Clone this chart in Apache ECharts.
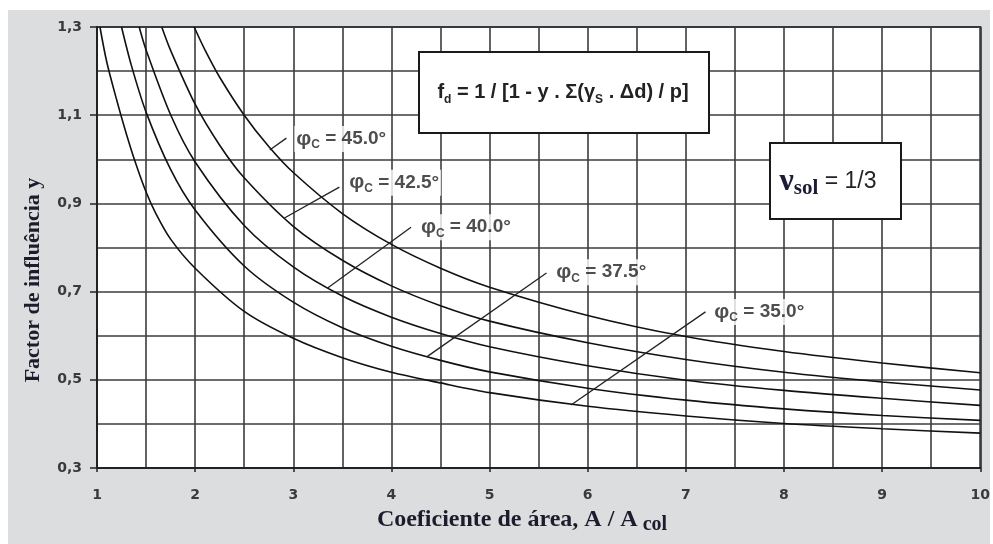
<!DOCTYPE html>
<html><head><meta charset="utf-8">
<script src="https://cdn.jsdelivr.net/npm/echarts@6/dist/echarts.min.js"></script>
<style>html,body{margin:0;padding:0;background:#fff}#c{width:993px;height:544px}</style>
</head><body><div id="c"></div>
<script>
// ---- data ----
const phi35  = [[1.03,1.30],[1.1,1.22],[1.2,1.135],[1.3,1.057],[1.4,0.987],[1.5,0.926],[1.6,0.877],[1.75,0.819],[2,0.753],[2.5,0.655],[3,0.594],[3.5,0.550],[4,0.517],[4.5,0.493],[5,0.471],[6,0.440],[7,0.418],[8,0.401],[9,0.389],[10,0.379]];
const phi375 = [[1.25,1.30],[1.35,1.213],[1.5,1.107],[1.75,0.977],[2,0.885],[2.5,0.758],[3,0.676],[3.5,0.618],[4,0.576],[4.5,0.544],[5,0.518],[6,0.481],[7,0.454],[8,0.434],[9,0.419],[10,0.408]];
const phi40  = [[1.43,1.30],[1.5,1.248],[1.75,1.101],[2,0.994],[2.5,0.850],[3,0.756],[3.5,0.690],[4,0.642],[4.5,0.605],[5,0.575],[6,0.532],[7,0.499],[8,0.476],[9,0.458],[10,0.442]];
const phi425 = [[1.66,1.30],[1.75,1.247],[2,1.125],[2.25,1.032],[2.5,0.958],[3,0.848],[3.5,0.771],[4,0.713],[4.5,0.668],[5,0.633],[6,0.584],[7,0.546],[8,0.517],[9,0.495],[10,0.477]];
const phi45  = [[1.99,1.30],[2.1,1.248],[2.25,1.186],[2.5,1.100],[2.75,1.029],[3,0.970],[3.5,0.877],[4,0.807],[4.5,0.753],[5,0.710],[6,0.646],[7,0.598],[8,0.564],[9,0.538],[10,0.516]];
const curveNames = ['35.0','37.5','40.0','42.5','45.0'];
// leader lines (curve end -> label end) and label anchors, in data units
const leaders = [
  [[5.83,0.443],[7.20,0.654]],
  [[4.36,0.552],[5.58,0.742]],
  [[3.35,0.708],[4.20,0.846]],
  [[2.91,0.867],[3.47,0.937]],
  [[2.76,1.021],[2.93,1.048]]
];
const labelAnchors = [[7.27,0.654],[5.66,0.744],[4.28,0.846],[3.55,0.947],[3.01,1.046]];
const xTickLabels = [1,2,3,4,5,6,7,8,9,10];
const yTickLabels = ['0,3','0,5','0,7','0,9','1,1','1,3'];

const chart = echarts.init(document.getElementById('c'), null, {renderer:'canvas'});
const curves = [phi35, phi375, phi40, phi425, phi45];
const series = [];
curves.forEach((d,i)=>{
  series.push({type:'line', data:d, showSymbol:false, symbol:'none', smooth:0.3,
    lineStyle:{color:'#111', width:1.6}, silent:true, z:3});
});
leaders.forEach(l=>{
  series.push({type:'line', data:l, symbol:'none', lineStyle:{color:'#222', width:1.3}, silent:true, z:4});
});
series.push({type:'scatter', symbolSize:0, silent:true, z:6,
  data: labelAnchors.map((p,i)=>({value:p, name:curveNames[i]})),
  label:{show:true, position:'right', distance:0,
    formatter: p => '{p|φ}{c|C}{t| = ' + p.name + '°}',
    backgroundColor:'#fff', padding:[1,2,1,2],
    rich:{
      p:{fontFamily:'Liberation Sans', fontWeight:'bold', fontSize:21, color:'#222', lineHeight:24, verticalAlign:'middle'},
      c:{fontFamily:'Liberation Sans', fontWeight:'bold', fontSize:12, color:'#222', lineHeight:12, verticalAlign:'bottom'},
      t:{fontFamily:'Liberation Sans', fontWeight:'bold', fontSize:19, color:'#222', lineHeight:24, verticalAlign:'middle'}
    }}
});

const option = {
  backgroundColor:'#fff',
  animation:false,
  grid:{left:97, right:11, top:27, bottom:76, show:true, backgroundColor:'#fff', borderColor:'#333', borderWidth:2},
  xAxis:{type:'value', min:1, max:10, interval:1,
    axisLine:{show:true, onZero:false, lineStyle:{color:'#222', width:2}},
    axisTick:{show:true, length:4, lineStyle:{color:'#222', width:1.5}},
    axisLabel:{margin:20, fontFamily:'DejaVu Sans', fontWeight:'bold', fontSize:14, color:'#3a3a3a',
      formatter: v => { const k = xTickLabels.indexOf(Math.round(v)); return k>=0 && Math.abs(v-Math.round(v))<1e-6 ? String(xTickLabels[k]) : ''; }},
    splitLine:{show:true, lineStyle:{color:'#3c3c3c', width:1.6}},
    minorTick:{show:false, splitNumber:2},
    minorSplitLine:{show:true, lineStyle:{color:'#3c3c3c', width:1.6}}
  },
  yAxis:{type:'value', min:0.3, max:1.3, interval:0.2,
    axisLine:{show:true, onZero:false, lineStyle:{color:'#222', width:2}},
    axisTick:{show:true, length:7, lineStyle:{color:'#222', width:1.5}},
    axisLabel:{margin:15, fontFamily:'DejaVu Sans', fontWeight:'bold', fontSize:14, color:'#3a3a3a',
      formatter: v => { const k = Math.round((v-0.3)/0.2); return Math.abs(v-(0.3+0.2*k))<1e-6 ? (yTickLabels[k]||'') : ''; }},
    splitLine:{show:true, lineStyle:{color:'#3c3c3c', width:1.6}},
    minorTick:{show:false, splitNumber:2},
    minorSplitLine:{show:true, lineStyle:{color:'#3c3c3c', width:1.6}}
  },
  graphic:[
    {type:'rect', z:-100, shape:{x:8, y:10, width:982, height:534}, style:{fill:'#dcdddf'}, silent:true},
    // formula box
    {type:'rect', z:100, shape:{x:419, y:52, width:290, height:81}, style:{fill:'#fff', stroke:'#1a1a1a', lineWidth:2}},
    {type:'text', z:101, x:563, y:92, style:{
      text:'{m|f}{s|d}{m| = 1 / [1 - y . Σ(γ}{s|S}{m| . Δd) / p]}',
      align:'center', verticalAlign:'middle',
      rich:{
        m:{fontFamily:'Liberation Sans', fontWeight:'bold', fontSize:20, fill:'#222', lineHeight:28, verticalAlign:'middle'},
        s:{fontFamily:'Liberation Sans', fontWeight:'bold', fontSize:12, fill:'#222', lineHeight:12, verticalAlign:'bottom'}
      }}},
    // nu box
    {type:'rect', z:100, shape:{x:770, y:143, width:131, height:76}, style:{fill:'#fff', stroke:'#1a1a1a', lineWidth:2}},
    {type:'text', z:101, x:828, y:182, style:{
      text:'{v|ν}{s|sol}{t| = 1/3}',
      align:'center', verticalAlign:'middle',
      rich:{
        v:{fontFamily:'Liberation Serif', fontWeight:'bold', fontSize:32, fill:'#1c1c34', lineHeight:34, verticalAlign:'middle'},
        s:{fontFamily:'Liberation Serif', fontWeight:'bold', fontSize:21, fill:'#1c1c34', lineHeight:21, verticalAlign:'bottom'},
        t:{fontFamily:'Liberation Sans', fontSize:23, fill:'#222', lineHeight:34, verticalAlign:'middle'}
      }}},
    // axis titles
    {type:'text', z:50, x:33, y:280, rotation:Math.PI/2, style:{
      text:'Factor de influência y', align:'center', verticalAlign:'middle',
      font:'bold 22px "Liberation Serif"', fill:'#1c1c2c'}},
    {type:'text', z:50, x:522, y:520, style:{
      text:'{m|Coeficiente de área, A / A}{s| col}', align:'center', verticalAlign:'middle',
      rich:{
        m:{fontFamily:'Liberation Serif', fontWeight:'bold', fontSize:24, fill:'#1c1c2c', lineHeight:30, verticalAlign:'middle'},
        s:{fontFamily:'Liberation Serif', fontWeight:'bold', fontSize:20, fill:'#1c1c2c', lineHeight:20, verticalAlign:'bottom'}
      }}}
  ],
  series: series
};
chart.setOption(option);
</script>
</body></html>
